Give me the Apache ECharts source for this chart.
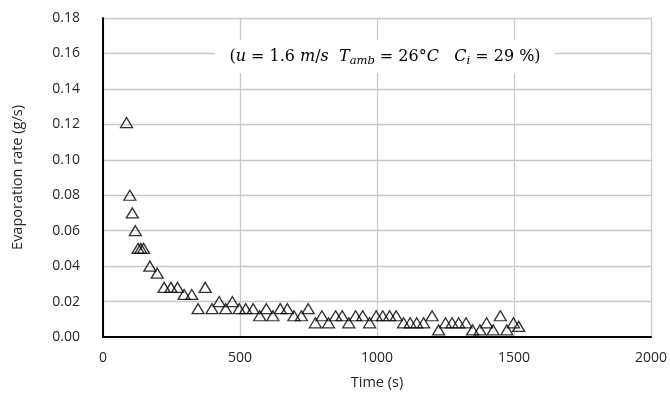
<!DOCTYPE html>
<html><head><meta charset="utf-8">
<script src="https://cdn.jsdelivr.net/npm/echarts@6/dist/echarts.min.js"></script>
<style>html,body{margin:0;padding:0;background:#fff}#c{width:670px;height:395px}</style>
</head><body><div id="c"></div>
<script>
const times = [86, 98, 107, 118, 128, 138, 148, 171, 198, 223, 248, 272, 296, 324, 347, 373, 398, 424, 448, 472, 497, 521, 548, 572, 596, 620, 647, 673, 697, 724, 749, 775, 799, 823, 849, 873, 897, 922, 948, 973, 997, 1021, 1046, 1070, 1097, 1121, 1145, 1170, 1201, 1225, 1250, 1274, 1298, 1325, 1349, 1376, 1400, 1424, 1450, 1474, 1498, 1517];
const rates = [0.121, 0.080, 0.070, 0.060, 0.050, 0.050, 0.050, 0.040, 0.036, 0.028, 0.028, 0.028, 0.024, 0.024, 0.016, 0.028, 0.016, 0.020, 0.016, 0.020, 0.016, 0.016, 0.016, 0.012, 0.016, 0.012, 0.016, 0.016, 0.012, 0.012, 0.016, 0.008, 0.012, 0.008, 0.012, 0.012, 0.008, 0.012, 0.012, 0.008, 0.012, 0.012, 0.012, 0.012, 0.008, 0.008, 0.008, 0.008, 0.012, 0.004, 0.008, 0.008, 0.008, 0.008, 0.004, 0.004, 0.008, 0.004, 0.012, 0.004, 0.008, 0.006];
const xTicks = [0, 500, 1000, 1500, 2000];
const yTicks = [0, 0.02, 0.04, 0.06, 0.08, 0.10, 0.12, 0.14, 0.16, 0.18];
const xTitle = 'Time (s)';
const yTitle = 'Evaporation rate (g/s)';

const chart = echarts.init(document.getElementById('c'), null, {renderer: 'canvas'});
const font = '"Open Sans", "Liberation Sans", sans-serif';
const mathFont = '"DejaVu Serif", "Liberation Serif", serif';
chart.setOption({
  animation: false,
  backgroundColor: '#fff',
  grid: {left: 103, right: 18, top: 18, bottom: 58},
  xAxis: {
    type: 'value', min: xTicks[0], max: xTicks[xTicks.length - 1], interval: 500,
    name: xTitle, nameLocation: 'middle', nameGap: 38,
    nameTextStyle: {fontFamily: font, fontSize: 14.5, color: '#262626'},
    axisLine: {lineStyle: {color: '#000', width: 2}},
    axisTick: {show: false},
    axisLabel: {fontFamily: font, fontSize: 14, color: '#262626', margin: 14, formatter: v => String(v)},
    splitLine: {show: true, lineStyle: {color: '#c8c8c8', width: 1.3}}
  },
  yAxis: {
    type: 'value', min: yTicks[0], max: yTicks[yTicks.length - 1], interval: 0.02,
    name: yTitle, nameLocation: 'middle', nameGap: 78,
    nameTextStyle: {fontFamily: font, fontSize: 14.5, color: '#262626'},
    axisLine: {show: true, lineStyle: {color: '#000', width: 2}},
    axisTick: {show: false},
    axisLabel: {fontFamily: font, fontSize: 14, color: '#262626', margin: 23, formatter: v => v.toFixed(2)},
    splitLine: {show: true, lineStyle: {color: '#c8c8c8', width: 1.3}}
  },
  series: [{
    type: 'scatter',
    data: times.map((t, i) => [t, rates[i]]),
    symbol: 'triangle',
    symbolSize: [12, 10],
    itemStyle: {color: 'rgba(0,0,0,0)', borderColor: '#000', borderWidth: 1.3},
    z: 5
  }],
  graphic: [{
    type: 'rect', shape: {x: 215, y: 40, width: 340, height: 33},
    style: {fill: '#fff'}, z: 10
  }, {
    type: 'text', x: 385, y: 57, z: 11,
    style: {
      text: '{p|(}{i|u}{p| = 1.6 }{i|m}{p|/}{i|s  T}{s|amb}{p| = 26°}{i|C   C}{s|i}{p| = 29 %)}',
      align: 'center', verticalAlign: 'middle',
      rich: {
        p: {fontFamily: mathFont, fontSize: 16, color: '#000', lineHeight: 20},
        i: {fontFamily: mathFont, fontSize: 16, fontStyle: 'italic', color: '#000', lineHeight: 20},
        s: {fontFamily: mathFont, fontSize: 11.5, fontStyle: 'italic', color: '#000', lineHeight: 20, padding: [8, 0, 0, 0]}
      }
    }
  }]
});
</script></body></html>
